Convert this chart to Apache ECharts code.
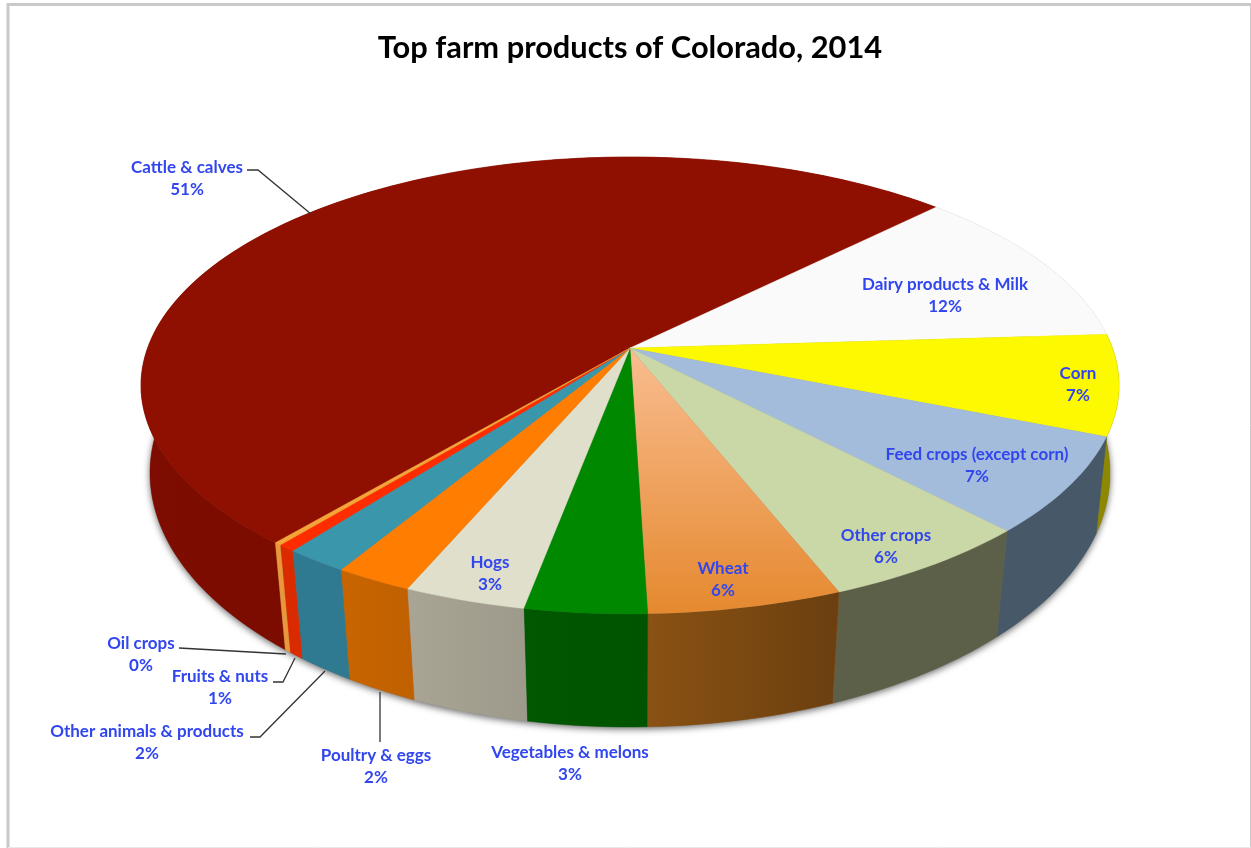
<!DOCTYPE html>
<html>
<head>
<meta charset="utf-8">
<style>html,body{margin:0;padding:0;background:#fff}#c{width:1251px;height:848px}</style>
<script src="https://cdn.jsdelivr.net/npm/echarts@6/dist/echarts.min.js"></script>
</head>
<body>
<div id="c"></div>
<script>
const categories = ['Cattle & calves','Dairy products & Milk','Corn','Feed crops (except corn)','Other crops','Wheat','Vegetables & melons','Hogs','Poultry & eggs','Other animals & products','Fruits & nuts','Oil crops'];
const shares = [51.4,11.5,7.1,6.8,6.1,5.5,3.45,3.45,2.2,1.8,0.5,0.2];
const topColors = ['#8f1000','#fafafa','#fdf900','#a3bcdc','#cad8a8',null,'#008800','#dfdfcb','#ff7d00','#3a96ab','#ff2c00','#f7a437'];
const wallColors = [['#7e0c00','#740a00'],['#bbbbbb','#bbbbbb'],['#8d8800','#8d8800'],['#475869','#475869'],['#5d6049','#5d6049'],['#8a5213','#6b3f10'],['#005800','#005400'],['#a9a494','#9e9a8b'],['#c96500','#c06000'],['#2f7a90','#2f7a90'],['#d92a00','#d92a00'],['#e8973a','#e8973a']];
const labelCentres = [[187,179],[945,296],[1078,385],[977,466],[886,547],[723,580],[570,764],[490,574],[376,767],[147,743],[220,688],[141,655]];
const leaders = [[[247,170],[258,170],[311,214]],null,null,null,null,null,null,null,[[380,692],[380,742]],[[250,737],[260,737],[325,671]],[[273,682],[283,682],[295,658]],[[179,648],[286,654]]];
const startAngle = 220;

const total = shares.reduce((a,b)=>a+b,0);
let running = startAngle;
const slices = shares.map(s=>{const a=running; running+=s/total*360; return [a,running];});

// Perspective projection of the unit disc for the top and bottom faces of the pie
const rim = {
  top:{cx:630,cy:348,kx:482.4,ky:222.3,p:0.164},
  bottom:{cx:630,cy:434.9,kx:474.6,ky:248.3,p:0.15}
};
function project(deg,face){
  const f=rim[face], t=deg*Math.PI/180;
  const u=Math.sin(t), v=-Math.cos(t), d=1-f.p*v;
  return [f.cx+f.kx*u/d, f.cy+f.ky*v/d];
}
function arc(a,b,face){
  const n=Math.max(2,Math.ceil(Math.abs(b-a)/1.5)), out=[];
  for(let i=0;i<=n;i++) out.push(project(a+(b-a)*i/n,face));
  return out;
}
const sliceData = slices.map((s,i)=>({name:categories[i],value:[s[0],s[1]]}));

const wheatFill={type:'linear',x:0,y:0,x2:0,y2:1,colorStops:[{offset:0,color:'#f9bd90'},{offset:1,color:'#e5892f'}]};

const option={
  animation:false,
  backgroundColor:'#ffffff',
  tooltip:{show:false},
  title:{text:'Top farm products of Colorado, 2014',left:625,top:28,textAlign:'center',
    textStyle:{fontFamily:'Lato',fontWeight:'bold',fontSize:30.8,color:'#000'}},
  graphic:[
    {type:'line',shape:{x1:7,y1:4.5,x2:1251,y2:4.5},style:{stroke:'#c9c9c9',lineWidth:3},silent:true},
    {type:'line',shape:{x1:8,y1:3,x2:8,y2:848},style:{stroke:'#c9c9c9',lineWidth:3},silent:true},
    {type:'line',shape:{x1:1250.5,y1:3,x2:1250.5,y2:848},style:{stroke:'#c9c9c9',lineWidth:1},silent:true},
    {type:'line',shape:{x1:8,y1:847.5,x2:1251,y2:847.5},style:{stroke:'#e8e8e8',lineWidth:1},silent:true}
  ],
  series:[
    {type:'custom',coordinateSystem:'none',silent:true,z:1,data:[[0,360]],
     renderItem:(p,api)=>({type:'polygon',shape:{points:arc(api.value(0),api.value(1),'bottom')},
       style:{fill:'#777',shadowColor:'rgba(0,0,0,0.6)',shadowBlur:7,shadowOffsetX:0,shadowOffsetY:2}})},
    {type:'custom',coordinateSystem:'none',silent:true,z:2,data:sliceData,
     renderItem:(p,api)=>{
       const a=api.value(0),b=api.value(1),c=wallColors[p.dataIndex];
       const pts=arc(a,b,'top').concat(arc(a,b,'bottom').reverse());
       return {type:'polygon',shape:{points:pts},style:{
         fill:{type:'linear',x:0,y:0,x2:1,y2:0,colorStops:[{offset:0,color:c[0]},{offset:1,color:c[1]}]},
         stroke:c[0],lineWidth:0.4}};
     }},
    {type:'custom',coordinateSystem:'none',silent:true,z:3,data:sliceData,
     renderItem:(p,api)=>{
       const a=api.value(0),b=api.value(1),c=topColors[p.dataIndex];
       const pts=[[rim.top.cx,rim.top.cy]].concat(arc(a,b,'top'));
       return {type:'polygon',shape:{points:pts},style:c?{fill:c,stroke:c,lineWidth:0.4}:{fill:wheatFill}};
     }},
    {type:'custom',coordinateSystem:'none',silent:true,z:4,data:sliceData,
     renderItem:(p,api)=>{
       const i=p.dataIndex, l=labelCentres[i], kids=[];
       if(leaders[i]) kids.push({type:'polyline',shape:{points:leaders[i]},style:{fill:'none',stroke:'#333',lineWidth:1.3}});
       kids.push({type:'text',x:l[0],y:l[1],style:{
         text:categories[i]+'\n'+Math.round(shares[i])+'%',
         align:'center',verticalAlign:'middle',lineHeight:22,
         font:'bold 17px Lato',fill:'#3146ee'}});
       return {type:'group',children:kids};
     }}
  ]
};
const chart=echarts.init(document.getElementById('c'),null,{renderer:'canvas'});
chart.setOption(option);
</script>
</body>
</html>
